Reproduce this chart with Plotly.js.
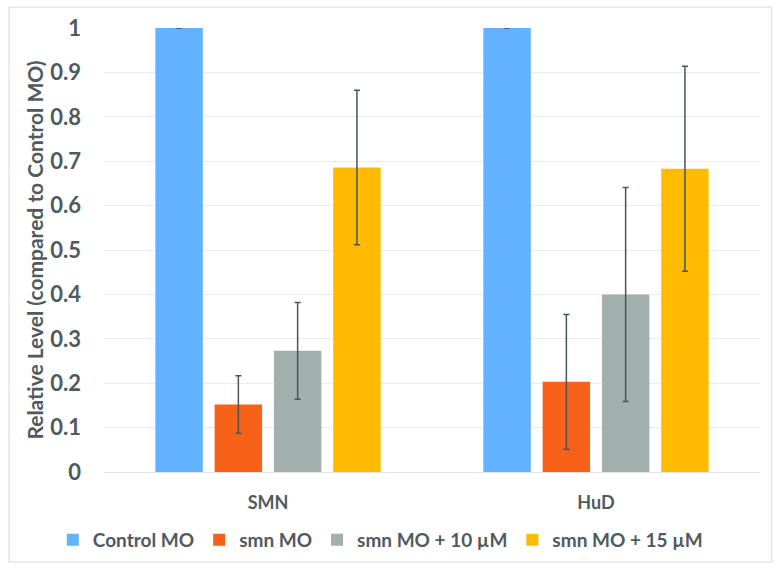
<!DOCTYPE html>
<html>
<head>
<meta charset="utf-8">
<script src="https://cdn.plot.ly/plotly-3.0.1.min.js"></script>
<style>
  html, body { margin: 0; padding: 0; background: #fff; }
  #chart { width: 782px; height: 572px; }
</style>
</head>
<body>
<div id="chart"></div>
<script>
const categories = ["SMN", "HuD"];
const seriesNames = ["Control MO", "smn MO", "smn MO + 10 \u00b5M", "smn MO + 15 \u00b5M"];
const controlMO = [1.0, 1.0];
const smnMO = [0.152, 0.203];
const smn10 = [0.273, 0.400];
const smn15 = [0.686, 0.683];
const controlErr = [0.0, 0.0];
const smnErr = [0.065, 0.152];
const smn10Err = [0.109, 0.241];
const smn15Err = [0.174, 0.231];
const yTicks = [0, 0.1, 0.2, 0.3, 0.4, 0.5, 0.6, 0.7, 0.8, 0.9, 1];
const yTickText = ["0", "0.1", "0.2", "0.3", "0.4", "0.5", "0.6", "0.7", "0.8", "0.9", "1"];

const colors = ["#62B2FF", "#F86218", "#A1B0AC", "#FFBB00"];
const textColor = "#4f5a5e";
const values = [controlMO, smnMO, smn10, smn15];
const errs = [controlErr, smnErr, smn10Err, smn15Err];

const traces = values.map((v, i) => ({
  type: "bar",
  name: seriesNames[i],
  x: categories,
  y: v,
  marker: { color: colors[i] },
  error_y: { type: "data", array: errs[i], visible: true, color: "#4a5459", thickness: 1.5, width: 3 }
}));

const font = { family: "Lato, 'Open Sans', sans-serif", color: textColor, weight: "bold" };

const layout = {
  width: 782,
  height: 572,
  margin: { l: 104, r: 22, t: 28, b: 100 },
  paper_bgcolor: "#ffffff",
  plot_bgcolor: "#ffffff",
  barmode: "group",
  bargap: 0.277,
  bargroupgap: 0.2,
  showlegend: true,
  font: font,
  xaxis: {
    type: "category",
    tickfont: Object.assign({}, font, { size: 18 }),
    ticks: "",
    ticklabelstandoff: 18,
    showgrid: false,
    zeroline: false,
    showline: false,
    fixedrange: true
  },
  yaxis: {
    range: [0, 1],
    tickvals: yTicks,
    ticktext: yTickText,
    tickfont: Object.assign({}, font, { size: 22 }),
    ticks: "",
    ticklabelstandoff: 22,
    showgrid: true,
    gridcolor: "#ebebeb",
    gridwidth: 1,
    zeroline: true,
    zerolinecolor: "#e3e3e3",
    zerolinewidth: 1,
    showline: false,
    title: { text: "Relative Level (compared to Control MO)", font: Object.assign({}, font, { size: 21 }), standoff: 0 },
    fixedrange: true
  },
  legend: {
    orientation: "h",
    x: -0.078,
    xanchor: "left",
    y: -0.153,
    yanchor: "middle",
    font: Object.assign({}, font, { size: 19 }),
    tracegroupgap: 0,
    itemwidth: 30
  },
  shapes: [{
    type: "rect",
    xref: "paper",
    yref: "paper",
    x0: -0.1448, x1: 1.018,
    y0: -0.2027, y1: 1.047,
    line: { color: "#d9d9d9", width: 1 },
    fillcolor: "rgba(0,0,0,0)",
    layer: "below"
  }]
};

Plotly.newPlot("chart", traces, layout, { displayModeBar: false, staticPlot: true });
</script>
</body>
</html>
